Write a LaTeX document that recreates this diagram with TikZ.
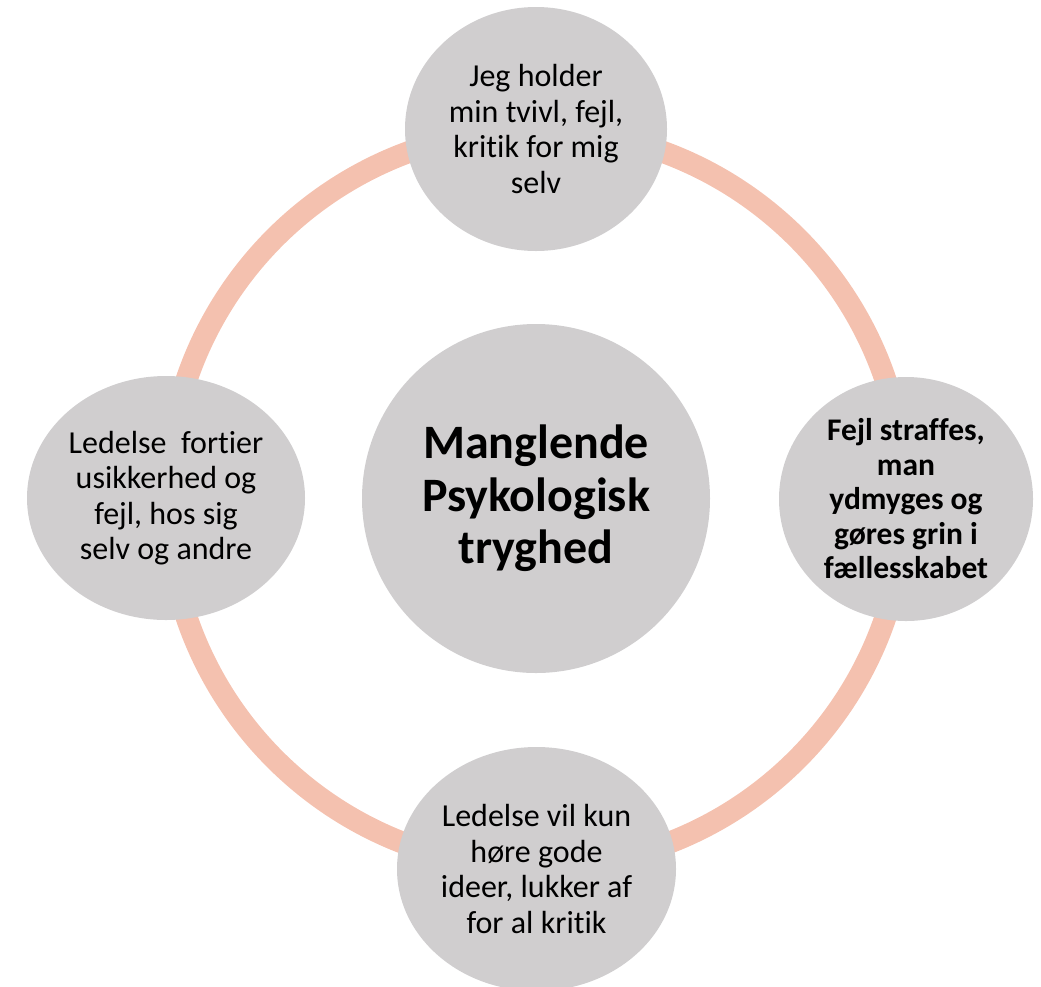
\documentclass[tikz,border=0pt]{standalone}
\usepackage{fontspec}
\setmainfont{Carlito}[Ligatures=NoCommon]
\usetikzlibrary{shapes.geometric}
\definecolor{ringc}{HTML}{F4C1AF}
\definecolor{bubblec}{HTML}{D0CECF}
\begin{document}
\begin{tikzpicture}[x=1pt,y=-1pt,
  bubble/.style={ellipse, fill=bubblec, inner sep=0pt, align=center, text=black},
  sat/.style={bubble, minimum height=244pt, font=\fontsize{32}{35.5}\selectfont},
  satb/.style={bubble, minimum height=244pt, font=\bfseries\fontsize{31.5}{34.5}\selectfont},
  hub/.style={bubble, minimum width=348pt, minimum height=349pt, font=\bfseries\fontsize{48}{52.5}\selectfont},
  ringline/.style={draw=ringc, line width=22pt}]
\useasboundingbox (0,0) rectangle (1041,986);
\coordinate (c) at (536,498.5);
\draw[ringline] (c) circle[radius=369pt];
\node[hub] (center) at (c) {Manglende\\Psykologisk\\tryghed};
\node[sat, minimum width=262pt] (top) at (536,129) {Jeg holder\\min tvivl, fejl,\\kritik for mig\\selv};
\node[satb, minimum width=254pt] (right) at (906,499) {Fejl straffes,\\man\\ydmyges og\\gøres grin i\\fællesskabet};
\node[sat, minimum width=279pt] (bottom) at (536.5,869) {Ledelse vil kun\\høre gode\\ideer, lukker af\\for al kritik};
\node[sat, minimum width=278pt] (left) at (166,498) {Ledelse~ fortier\\usikkerhed og\\fejl, hos sig\\selv og andre};
\end{tikzpicture}
\end{document}
